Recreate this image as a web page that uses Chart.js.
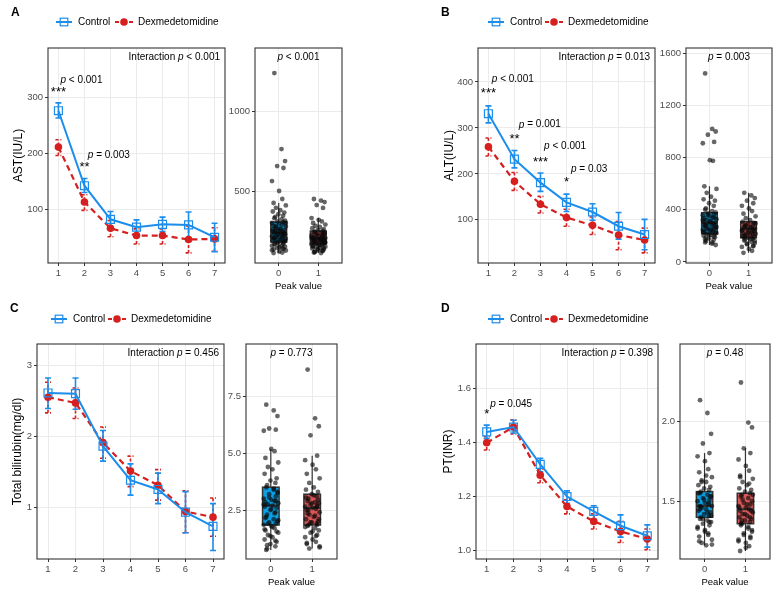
<!DOCTYPE html>
<html lang="en">
<head>
<meta charset="UTF-8">
<title>Liver function: Control vs Dexmedetomidine</title>
<script src="https://cdn.jsdelivr.net/npm/chart.js@4.4.0/dist/chart.umd.min.js"></script>
<style>
  body { margin: 0; background: #fff; }
  #wrap { position: relative; width: 780px; height: 592px; }
  #wrap canvas { position: absolute; left: 0; top: 0; }
</style>
</head>
<body>
<div id="wrap"></div>
<script>
// ---- data ----
const days = [1, 2, 3, 4, 5, 6, 7];
const groups = [0, 1];

// A: AST
const astControl = [276, 142, 82, 68, 73, 72, 50];
const astControlLow = [263, 130, 69, 55, 60, 49, 24];
const astControlHigh = [290, 155, 96, 81, 86, 95, 75];
const astDex = [211, 113, 66, 53, 53, 46, 47];
const astDexLow = [196, 98, 51, 38, 38, 22, 25];
const astDexHigh = [224, 126, 80, 65, 65, 70, 67];
const astBoxControl = [112, 181, 240, 306, 425]; // lower whisker, q1, median, q3, upper whisker
const astBoxDex = [112, 169, 205, 250, 331];
const astPeakControl = [1237, 762, 687, 656, 644, 562, 500, 450, 425, 410, 395, 380, 372, 365, 355, 345, 338, 330, 322, 315, 310, 305, 300, 296, 290, 284, 278, 272, 266, 260, 255, 250, 246, 242, 238, 234, 230, 226, 222, 218, 214, 210, 206, 202, 198, 194, 190, 186, 182, 178, 172, 166, 160, 152, 145, 138, 130, 122, 115, 112,
  300, 280, 262, 248, 236, 228, 220, 212, 204, 196, 188, 176, 168, 158, 150, 142, 135, 128, 260, 244];
const astPeakDex = [450, 440, 431, 412, 394, 331, 320, 310, 300, 290, 282, 275, 268, 262, 256, 250, 246, 242, 238, 234, 230, 226, 222, 218, 214, 210, 206, 203, 200, 197, 194, 191, 188, 185, 182, 179, 176, 173, 170, 167, 164, 160, 156, 152, 148, 144, 140, 135, 130, 125, 120, 115, 112,
  240, 228, 216, 208, 198, 190, 184, 178, 172, 162, 154, 146, 138, 128, 118, 205, 195, 186];

// B: ALT
const altControl = [331, 232, 181, 138, 117, 86, 68];
const altControlLow = [311, 213, 162, 118, 99, 58, 35];
const altControlHigh = [348, 251, 202, 156, 135, 116, 101];
const altDex = [259, 184, 134, 105, 88, 67, 56];
const altDexLow = [239, 164, 115, 86, 68, 35, 28];
const altDexHigh = [278, 203, 151, 123, 106, 96, 82];
const altBoxControl = [130, 216, 300, 377, 580];
const altBoxDex = [70, 185, 255, 308, 530];
const altPeakControl = [1445, 1020, 1000, 975, 920, 910, 780, 775, 580, 560, 530, 500, 480, 470, 450, 430, 410, 400, 390, 380, 372, 365, 358, 350, 342, 335, 328, 320, 313, 306, 300, 294, 288, 282, 276, 270, 264, 258, 252, 246, 240, 234, 228, 222, 216, 208, 200, 190, 180, 170, 160, 150, 140, 130,
  360, 340, 322, 310, 296, 280, 268, 255, 242, 230, 220, 210, 196, 185, 172, 150];
const altPeakDex = [530, 510, 490, 470, 450, 430, 410, 390, 370, 350, 335, 320, 308, 300, 292, 285, 278, 271, 264, 258, 252, 246, 240, 234, 228, 222, 216, 210, 204, 198, 192, 186, 180, 172, 164, 155, 145, 135, 125, 115, 100, 85, 70,
  295, 280, 265, 250, 238, 225, 212, 200, 188, 175, 160, 140, 120];

// C: total bilirubin
const tbilControl = [2.61, 2.60, 1.86, 1.38, 1.25, 0.93, 0.73];
const tbilControlLow = [2.39, 2.38, 1.65, 1.17, 1.05, 0.64, 0.39];
const tbilControlHigh = [2.82, 2.82, 2.08, 1.61, 1.48, 1.22, 1.05];
const tbilDex = [2.55, 2.47, 1.91, 1.51, 1.31, 0.94, 0.86];
const tbilDexLow = [2.33, 2.25, 1.69, 1.29, 1.10, 0.64, 0.59];
const tbilDexHigh = [2.76, 2.68, 2.13, 1.72, 1.53, 1.23, 1.13];
const tbilBoxControl = [0.74, 1.84, 2.7, 3.51, 5.2];
const tbilBoxDex = [0.8, 1.84, 2.6, 3.2, 4.9];
const tbilPeakControl = [7.15, 6.9, 6.65, 6.1, 6.05, 6.0, 5.2, 5.1, 4.8, 4.6, 4.4, 4.3, 4.1, 3.9, 3.8, 3.7, 3.6, 3.5, 3.4, 3.3, 3.2, 3.1, 3.0, 2.95, 2.9, 2.85, 2.8, 2.75, 2.7, 2.65, 2.6, 2.5, 2.4, 2.3, 2.2, 2.1, 2.0, 1.95, 1.9, 1.85, 1.8, 1.7, 1.6, 1.5, 1.4, 1.3, 1.2, 1.1, 1.0, 0.9, 0.8, 0.74,
  3.45, 3.25, 3.05, 2.9, 2.75, 2.55, 2.35, 2.15, 2.05, 1.9, 1.75, 1.65, 1.55, 1.35, 1.15, 0.95];
const tbilPeakDex = [8.7, 6.55, 6.2, 5.8, 4.9, 4.7, 4.5, 4.3, 4.1, 3.9, 3.7, 3.5, 3.4, 3.3, 3.2, 3.1, 3.0, 2.9, 2.85, 2.8, 2.75, 2.7, 2.65, 2.6, 2.55, 2.5, 2.4, 2.3, 2.2, 2.1, 2.0, 1.95, 1.9, 1.85, 1.8, 1.7, 1.6, 1.5, 1.4, 1.3, 1.2, 1.1, 1.0, 0.9, 0.8,
  3.15, 3.05, 2.95, 2.8, 2.65, 2.5, 2.35, 2.25, 2.1, 1.95, 1.85, 1.75, 1.55, 1.35, 1.05, 0.85];

// D: PT (INR)
const inrControl = [1.438, 1.456, 1.318, 1.199, 1.144, 1.091, 1.054];
const inrControlLow = [1.413, 1.434, 1.29, 1.174, 1.115, 1.049, 1.012];
const inrControlHigh = [1.463, 1.481, 1.34, 1.22, 1.165, 1.131, 1.094];
const inrDex = [1.398, 1.456, 1.278, 1.162, 1.107, 1.07, 1.042];
const inrDexLow = [1.371, 1.43, 1.25, 1.135, 1.079, 1.029, 1.002];
const inrDexHigh = [1.42, 1.483, 1.30, 1.187, 1.135, 1.107, 1.079];
const inrBoxControl = [1.225, 1.40, 1.47, 1.56, 1.80];
const inrBoxDex = [1.19, 1.36, 1.45, 1.55, 1.83];
const inrPeakControl = [2.13, 2.05, 1.92, 1.86, 1.80, 1.78, 1.75, 1.70, 1.68, 1.65, 1.63, 1.62, 1.60, 1.59, 1.58, 1.57, 1.56, 1.55, 1.54, 1.53, 1.52, 1.51, 1.50, 1.49, 1.48, 1.47, 1.47, 1.46, 1.45, 1.44, 1.43, 1.42, 1.41, 1.40, 1.39, 1.38, 1.37, 1.36, 1.35, 1.33, 1.31, 1.30, 1.28, 1.26, 1.24, 1.225,
  1.55, 1.53, 1.51, 1.49, 1.47, 1.45, 1.43, 1.41, 1.39, 1.37, 1.34, 1.32, 1.29, 1.25, 1.23, 1.62, 1.66];
const inrPeakDex = [2.24, 1.99, 1.96, 1.83, 1.80, 1.76, 1.72, 1.69, 1.66, 1.64, 1.62, 1.60, 1.58, 1.57, 1.56, 1.55, 1.54, 1.53, 1.52, 1.50, 1.49, 1.48, 1.47, 1.46, 1.45, 1.44, 1.43, 1.42, 1.41, 1.40, 1.39, 1.38, 1.37, 1.36, 1.35, 1.34, 1.32, 1.30, 1.28, 1.26, 1.24, 1.22, 1.19,
  1.54, 1.51, 1.48, 1.46, 1.44, 1.42, 1.40, 1.38, 1.36, 1.33, 1.31, 1.29, 1.27, 1.25, 1.21, 1.61, 1.65];

// ---- styling ----
const FONT = '"Liberation Sans", Arial, Helvetica, sans-serif';
const BLUE = '#1C8DEB';
const RED = '#D61F1F';
const BOX_BLUE = '#0AA0E6';
const BOX_RED = '#D95757';
const FRAME = '#333333';
const GRID = '#EBEBEB';
const TICK_TXT = '#4D4D4D';
const YW = 30, XH = 14;
// fixed horizontal spread for the jittered dots
const jitterOffsets = [-0.11, 0.07, 0.16, -0.04, 0.12, -0.17, 0.01, 0.09, -0.13, 0.18, -0.07, 0.04, -0.15, 0.14, -0.01, 0.11, -0.09];

const panels = [
  {
    letter: 'A', letterPos: [11, 13], yTitle: 'AST(IU/L)', yTitleX: 19, legendY: 22, legendX: [64, 124],
    ctrl: [astControl, astControlLow, astControlHigh], dex: [astDex, astDexLow, astDexHigh],
    line: { L: 48, R: 225, T: 48, B: 263, min: 4, max: 388, ticks: [100, 200, 300] },
    box: { L: 255, R: 342, min: 50, max: 1394, ticks: [500, 1000], dec: 0 },
    boxStats: [astBoxControl, astBoxDex], peaks: [astPeakControl, astPeakDex],
    interaction: ' < 0.001', boxP: ' < 0.001',
    ann: [
      { x: 1, y: 315, stars: '***', lx: 1.08, ly: 331, rel: ' < 0.001' },
      { x: 2, y: 180, stars: '**', lx: 2.13, ly: 196, rel: ' = 0.003' }
    ]
  },
  {
    letter: 'B', letterPos: [441, 13], yTitle: 'ALT(IU/L)', yTitleX: 450, legendY: 22, legendX: [496, 554],
    ctrl: [altControl, altControlLow, altControlHigh], dex: [altDex, altDexLow, altDexHigh],
    line: { L: 478, R: 655, T: 48, B: 263, min: 6, max: 474, ticks: [100, 200, 300, 400] },
    box: { L: 686, R: 772, min: -8, max: 1640, ticks: [0, 400, 800, 1200, 1600], dec: 0 },
    boxStats: [altBoxControl, altBoxDex], peaks: [altPeakControl, altPeakDex],
    interaction: ' = 0.013', boxP: ' = 0.003',
    ann: [
      { x: 1, y: 382, stars: '***', lx: 1.13, ly: 406, rel: ' < 0.001' },
      { x: 2, y: 282, stars: '**', lx: 2.17, ly: 307, rel: ' = 0.001' },
      { x: 3, y: 233, stars: '***', lx: 3.14, ly: 260, rel: ' < 0.001' },
      { x: 4, y: 188, stars: '*', lx: 4.17, ly: 211, rel: ' = 0.03' }
    ]
  },
  {
    letter: 'C', letterPos: [10, 309], yTitle: 'Total bilirubin(mg/dl)', yTitleX: 18, legendY: 319, legendX: [59, 117],
    ctrl: [tbilControl, tbilControlLow, tbilControlHigh], dex: [tbilDex, tbilDexLow, tbilDexHigh],
    line: { L: 37, R: 224, T: 344, B: 559, min: 0.27, max: 3.3, ticks: [1, 2, 3] },
    box: { L: 246, R: 337, min: 0.34, max: 9.83, ticks: [2.5, 5, 7.5], dec: 1 },
    boxStats: [tbilBoxControl, tbilBoxDex], peaks: [tbilPeakControl, tbilPeakDex],
    interaction: ' = 0.456', boxP: ' = 0.773',
    ann: []
  },
  {
    letter: 'D', letterPos: [441, 309], yTitle: 'PT(INR)', yTitleX: 449, legendY: 319, legendX: [496, 554],
    ctrl: [inrControl, inrControlLow, inrControlHigh], dex: [inrDex, inrDexLow, inrDexHigh],
    line: { L: 476, R: 658, T: 344, B: 559, min: 0.968, max: 1.763, ticks: [1.0, 1.2, 1.4, 1.6], dec: 1 },
    box: { L: 680, R: 770, min: 1.14, max: 2.48, ticks: [1.5, 2.0], dec: 1 },
    boxStats: [inrBoxControl, inrBoxDex], peaks: [inrPeakControl, inrPeakDex],
    interaction: ' = 0.398', boxP: ' = 0.48',
    ann: [
      { x: 1, y: 1.515, stars: '*', lx: 1.13, ly: 1.542, rel: ' = 0.045' }
    ]
  }
];

// ---- helpers ----
function makeCanvas() {
  const c = document.createElement('canvas');
  c.width = 780; c.height = 592;
  document.getElementById('wrap').appendChild(c);
  return c;
}

// draws text made of [text, italic] parts; align = 'left' | 'right' | 'center'
function richText(ctx, parts, x, y, align, size) {
  const widths = parts.map(([t, it]) => {
    ctx.font = (it ? 'italic ' : '') + size + 'px ' + FONT;
    return ctx.measureText(t).width;
  });
  const total = widths.reduce((a, b) => a + b, 0);
  let cx = align === 'right' ? x - total : align === 'center' ? x - total / 2 : x;
  ctx.textAlign = 'left';
  ctx.textBaseline = 'middle';
  ctx.fillStyle = '#000';
  parts.forEach(([t, it], i) => {
    ctx.font = (it ? 'italic ' : '') + size + 'px ' + FONT;
    ctx.fillText(t, cx, y);
    cx += widths[i];
  });
}

function axisCommon(min, max, ticks, dec, isX) {
  return {
    type: 'linear', min: min, max: max,
    afterBuildTicks: s => { s.ticks = ticks.map(v => ({ value: v })); },
    afterFit: s => { if (isX) s.height = XH; else s.width = YW; },
    grid: { color: GRID, lineWidth: 1, tickColor: FRAME, tickLength: 3, drawTicks: true },
    border: { display: false },
    ticks: {
      autoSkip: false, maxRotation: 0, padding: 2, color: TICK_TXT,
      font: { family: FONT, size: 9.5 },
      callback: v => dec ? Number(v).toFixed(dec) : String(v)
    }
  };
}

function framePlugin() {
  return {
    id: 'frame',
    afterDraw(chart) {
      const a = chart.chartArea, ctx = chart.ctx;
      ctx.save();
      ctx.strokeStyle = FRAME; ctx.lineWidth = 1.1;
      ctx.strokeRect(a.left, a.top, a.right - a.left, a.bottom - a.top);
      ctx.restore();
    }
  };
}

function errorBars(chart, series, color, dashed) {
  const xs = chart.scales.x, ys = chart.scales.y, ctx = chart.ctx;
  ctx.save();
  ctx.strokeStyle = color; ctx.lineWidth = 1.6;
  ctx.setLineDash(dashed ? [3, 2] : []);
  days.forEach((d, i) => {
    const x = xs.getPixelForValue(d);
    const lo = ys.getPixelForValue(series[1][i]);
    const hi = ys.getPixelForValue(series[2][i]);
    ctx.beginPath();
    ctx.moveTo(x, lo); ctx.lineTo(x, hi);
    ctx.moveTo(x - 3, lo); ctx.lineTo(x + 3, lo);
    ctx.moveTo(x - 3, hi); ctx.lineTo(x + 3, hi);
    ctx.stroke();
  });
  ctx.restore();
}

function lineChart(p) {
  const g = p.line;
  new Chart(makeCanvas(), {
    type: 'line',
    data: {
      datasets: [
        {
          label: 'Control', data: days.map((d, i) => ({ x: d, y: p.ctrl[0][i] })),
          borderColor: BLUE, borderWidth: 2, tension: 0,
          pointStyle: 'rect', pointRadius: 5.6, pointBorderWidth: 1.2,
          pointBorderColor: BLUE, pointBackgroundColor: 'rgba(255,255,255,0)'
        },
        {
          label: 'Dexmedetomidine', data: days.map((d, i) => ({ x: d, y: p.dex[0][i] })),
          borderColor: RED, borderWidth: 2.2, borderDash: [6, 4], tension: 0,
          pointStyle: 'circle', pointRadius: 3.8, pointBorderWidth: 0,
          pointBackgroundColor: RED, pointBorderColor: RED
        }
      ]
    },
    options: {
      responsive: false, animation: false, events: [], devicePixelRatio: 1,
      layout: { padding: { left: g.L - YW, top: g.T, right: 780 - g.R, bottom: 592 - g.B - XH } },
      plugins: { legend: { display: false }, tooltip: { enabled: false } },
      scales: {
        x: axisCommon(0.6, 7.4, days, 0, true),
        y: axisCommon(g.min, g.max, g.ticks, g.dec || 0, false)
      }
    },
    plugins: [framePlugin(), {
      id: 'extras',
      beforeDatasetsDraw(chart) {
        errorBars(chart, p.dex, RED, true);
        errorBars(chart, p.ctrl, BLUE, false);
      },
      afterDraw(chart) {
        const ctx = chart.ctx, a = chart.chartArea;
        const xs = chart.scales.x, ys = chart.scales.y;
        ctx.save();
        // panel letter
        ctx.font = 'bold 12px ' + FONT; ctx.fillStyle = '#000';
        ctx.textAlign = 'left'; ctx.textBaseline = 'middle';
        ctx.fillText(p.letter, p.letterPos[0], p.letterPos[1]);
        // legend
        const ly = p.legendY, [cx1, cx2] = p.legendX;
        ctx.lineWidth = 2; ctx.strokeStyle = BLUE;
        ctx.beginPath(); ctx.moveTo(cx1 - 8, ly); ctx.lineTo(cx1 + 8, ly); ctx.stroke();
        ctx.lineWidth = 1.2; ctx.strokeRect(cx1 - 3.8, ly - 3.8, 7.6, 7.6);
        ctx.strokeStyle = RED; ctx.lineWidth = 2.2; ctx.setLineDash([4, 3]);
        ctx.beginPath(); ctx.moveTo(cx2 - 9, ly); ctx.lineTo(cx2 + 9, ly); ctx.stroke();
        ctx.setLineDash([]);
        ctx.fillStyle = RED; ctx.beginPath(); ctx.arc(cx2, ly, 3.8, 0, Math.PI * 2); ctx.fill();
        ctx.fillStyle = '#000'; ctx.font = '10px ' + FONT;
        ctx.fillText('Control', cx1 + 14, ly);
        ctx.fillText('Dexmedetomidine', cx2 + 14, ly);
        // y title
        ctx.translate(p.yTitleX, (a.top + a.bottom) / 2);
        ctx.rotate(-Math.PI / 2);
        ctx.font = '12px ' + FONT; ctx.textAlign = 'center';
        ctx.fillText(p.yTitle, 0, 0);
        ctx.setTransform(1, 0, 0, 1, 0, 0);
        // interaction p
        richText(ctx, [['Interaction ', false], ['p', true], [p.interaction, false]], a.right - 5, a.top + 9, 'right', 10);
        // pairwise significance
        p.ann.forEach(n => {
          ctx.font = '13px ' + FONT; ctx.textAlign = 'center'; ctx.textBaseline = 'alphabetic';
          ctx.fillStyle = '#000';
          ctx.fillText(n.stars, xs.getPixelForValue(n.x), ys.getPixelForValue(n.y) + 7);
          richText(ctx, [['p', true], [n.rel, false]], xs.getPixelForValue(n.lx), ys.getPixelForValue(n.ly), 'left', 10);
        });
        ctx.restore();
      }
    }]
  });
}

function boxChart(p) {
  const g = p.box, T = p.line.T, B = p.line.B;
  const fills = [BOX_BLUE, BOX_RED];
  new Chart(makeCanvas(), {
    type: 'scatter',
    data: {
      datasets: groups.map(k => ({
        data: p.peaks[k].map((v, i) => ({ x: k + jitterOffsets[i % jitterOffsets.length], y: v })),
        pointRadius: 2.4, pointBorderWidth: 0,
        pointBackgroundColor: 'rgba(10,10,10,0.62)'
      }))
    },
    options: {
      responsive: false, animation: false, events: [], devicePixelRatio: 1,
      layout: { padding: { left: g.L - YW, top: T, right: 780 - g.R, bottom: 592 - B - XH } },
      plugins: { legend: { display: false }, tooltip: { enabled: false } },
      scales: {
        x: axisCommon(-0.6, 1.6, groups, 0, true),
        y: axisCommon(g.min, g.max, g.ticks, g.dec, false)
      }
    },
    plugins: [framePlugin(), {
      id: 'boxes',
      beforeDatasetsDraw(chart) {
        const ctx = chart.ctx, xs = chart.scales.x, ys = chart.scales.y;
        ctx.save();
        groups.forEach(k => {
          const s = p.boxStats[k];
          const x = xs.getPixelForValue(k);
          const hw = xs.getPixelForValue(k + 0.2) - x;
          const y = s.map(v => ys.getPixelForValue(v));
          ctx.strokeStyle = FRAME; ctx.lineWidth = 1.2;
          ctx.beginPath();
          ctx.moveTo(x, y[0]); ctx.lineTo(x, y[1]);
          ctx.moveTo(x, y[3]); ctx.lineTo(x, y[4]);
          ctx.stroke();
          ctx.fillStyle = fills[k];
          ctx.fillRect(x - hw, y[3], hw * 2, y[1] - y[3]);
          ctx.lineWidth = 1.5;
          ctx.strokeRect(x - hw, y[3], hw * 2, y[1] - y[3]);
          ctx.lineWidth = 2;
          ctx.beginPath(); ctx.moveTo(x - hw, y[2]); ctx.lineTo(x + hw, y[2]); ctx.stroke();
        });
        ctx.restore();
      },
      afterDraw(chart) {
        const ctx = chart.ctx, a = chart.chartArea;
        const mid = (a.left + a.right) / 2;
        ctx.save();
        richText(ctx, [['p', true], [p.boxP, false]], mid, a.top + 9, 'center', 10);
        ctx.font = '9.5px ' + FONT; ctx.fillStyle = '#000';
        ctx.textAlign = 'center'; ctx.textBaseline = 'middle';
        ctx.fillText('Peak value', mid, a.bottom + 23);
        ctx.restore();
      }
    }]
  });
}

panels.forEach(p => { lineChart(p); boxChart(p); });
</script>
</body>
</html>
